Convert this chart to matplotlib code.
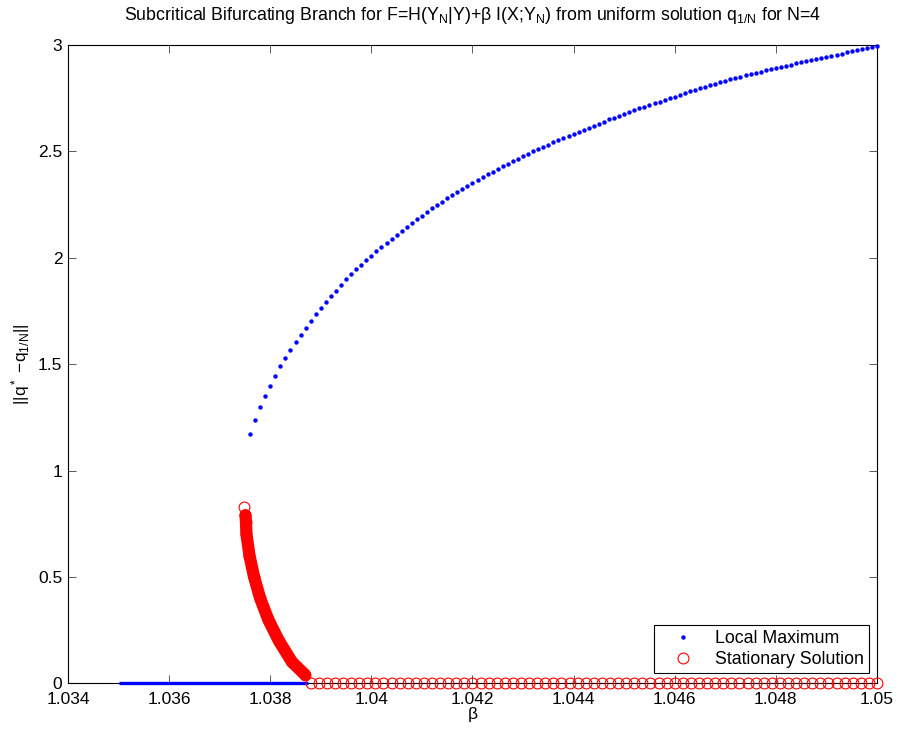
import matplotlib
matplotlib.use("Agg")
import matplotlib.pyplot as plt

plt.rcParams['font.family'] = ['Liberation Sans', 'DejaVu Sans']
plt.rcParams['mathtext.fontset'] = 'custom'
plt.rcParams['mathtext.rm'] = 'Liberation Sans'
plt.rcParams['mathtext.it'] = 'Liberation Sans'
plt.rcParams['mathtext.default'] = 'regular'

# ---------------- data ----------------
# upper branch of local maxima (beta, norm)
upper_beta = [
    1.0376, 1.0377, 1.0378, 1.0379, 1.0380, 1.0381, 1.0382, 1.0383, 1.0384, 1.0385,
    1.0386, 1.0387, 1.0388, 1.0389, 1.0390, 1.0391, 1.0392, 1.0393, 1.0394, 1.0395,
    1.0396, 1.0397, 1.0398, 1.0399, 1.0400, 1.0401, 1.0402, 1.0403, 1.0404, 1.0405,
    1.0406, 1.0407, 1.0408, 1.0409, 1.0410, 1.0411, 1.0412, 1.0413, 1.0414, 1.0415,
    1.0416, 1.0417, 1.0418, 1.0419, 1.0420, 1.0421, 1.0422, 1.0423, 1.0424, 1.0425,
    1.0426, 1.0427, 1.0428, 1.0429, 1.0430, 1.0431, 1.0432, 1.0433, 1.0434, 1.0435,
    1.0436, 1.0437, 1.0438, 1.0439, 1.0440, 1.0441, 1.0442, 1.0443, 1.0444, 1.0445,
    1.0446, 1.0447, 1.0448, 1.0449, 1.0450, 1.0451, 1.0452, 1.0453, 1.0454, 1.0455,
    1.0456, 1.0457, 1.0458, 1.0459, 1.0460, 1.0461, 1.0462, 1.0463, 1.0464, 1.0465,
    1.0466, 1.0467, 1.0468, 1.0469, 1.0470, 1.0471, 1.0472, 1.0473, 1.0474, 1.0475,
    1.0476, 1.0477, 1.0478, 1.0479, 1.0480, 1.0481, 1.0482, 1.0483, 1.0484, 1.0485,
    1.0486, 1.0487, 1.0488, 1.0489, 1.0490, 1.0491, 1.0492, 1.0493, 1.0494, 1.0495,
    1.0496, 1.0497, 1.0498, 1.0499, 1.0500,
]
upper_norm = [
    1.171, 1.236, 1.298, 1.351, 1.399, 1.446, 1.489, 1.529, 1.568, 1.605,
    1.639, 1.672, 1.705, 1.735, 1.764, 1.793, 1.819, 1.846, 1.873, 1.898,
    1.923, 1.947, 1.967, 1.989, 2.010, 2.031, 2.051, 2.071, 2.090, 2.109,
    2.128, 2.147, 2.164, 2.181, 2.198, 2.216, 2.233, 2.249, 2.264, 2.280,
    2.294, 2.310, 2.324, 2.338, 2.352, 2.366, 2.379, 2.393, 2.405, 2.418,
    2.431, 2.443, 2.456, 2.466, 2.478, 2.490, 2.501, 2.512, 2.523, 2.532,
    2.543, 2.554, 2.563, 2.573, 2.584, 2.593, 2.602, 2.612, 2.621, 2.631,
    2.640, 2.650, 2.659, 2.667, 2.677, 2.685, 2.694, 2.702, 2.710, 2.717,
    2.727, 2.734, 2.742, 2.750, 2.758, 2.766, 2.774, 2.782, 2.790, 2.797,
    2.804, 2.812, 2.819, 2.825, 2.832, 2.839, 2.846, 2.852, 2.857, 2.863,
    2.869, 2.875, 2.881, 2.886, 2.892, 2.897, 2.903, 2.908, 2.914, 2.919,
    2.924, 2.929, 2.935, 2.940, 2.945, 2.950, 2.955, 2.960, 2.965, 2.970,
    2.975, 2.980, 2.985, 2.990, 2.995,
]

# lower branch of local maxima lying on the uniform solution (beta range, norm 0)
lower_beta = [1.0350, 1.03875]
lower_norm = [0.0, 0.0]

# stationary solutions: subcritical branch (beta, norm)
stat_branch_beta = [1.03749, 1.03751, 1.03752, 1.03753, 1.03759, 1.03768, 1.03780,
                    1.03796, 1.03817, 1.03843, 1.03869]
stat_branch_norm = [0.830, 0.790, 0.760, 0.700, 0.600, 0.500, 0.400,
                    0.300, 0.200, 0.100, 0.040]

# stationary solutions on the uniform solution (norm 0)
stat_zero_beta = [
    1.03880, 1.03896, 1.03912, 1.03928, 1.03944, 1.03960, 1.03976, 1.03992, 1.04008, 1.04024,
    1.04040, 1.04056, 1.04072, 1.04088, 1.04104, 1.04120, 1.04136, 1.04152, 1.04168, 1.04184,
    1.04200, 1.04216, 1.04232, 1.04248, 1.04264, 1.04280, 1.04296, 1.04312, 1.04328, 1.04344,
    1.04360, 1.04376, 1.04392, 1.04408, 1.04424, 1.04440, 1.04456, 1.04472, 1.04488, 1.04504,
    1.04520, 1.04536, 1.04552, 1.04568, 1.04584, 1.04600, 1.04616, 1.04632, 1.04648, 1.04664,
    1.04680, 1.04696, 1.04712, 1.04728, 1.04744, 1.04760, 1.04776, 1.04792, 1.04808, 1.04824,
    1.04840, 1.04856, 1.04872, 1.04888, 1.04904, 1.04920, 1.04936, 1.04952, 1.04968, 1.04984,
    1.05000,
]
stat_zero_norm = [0.0] * len(stat_zero_beta)

x_ticks = [1.034, 1.036, 1.038, 1.040, 1.042, 1.044, 1.046, 1.048, 1.050]
x_tick_labels = ['1.034', '1.036', '1.038', '1.04', '1.042', '1.044', '1.046', '1.048', '1.05']
y_ticks = [0, 0.5, 1, 1.5, 2, 2.5, 3]
y_tick_labels = ['0', '0.5', '1', '1.5', '2', '2.5', '3']

title_text = 'Subcritical Bifurcating Branch for F=H($Y_N$|Y)+β I(X;$Y_N$) from uniform solution $q_{1/N}$ for N=4'
x_label = 'β'
y_label = '||q$^*$ −q$_{1/N}$||'

# ---------------- figure ----------------
fig = plt.figure(figsize=(8.98, 7.31), dpi=100)
ax = fig.add_axes([0.0757, 0.0653, 0.9009, 0.8731])

fs = 12.5
blue = '#0000ff'
red = '#ff0000'

# lower blue branch (dense dots -> thick line)
ax.plot(lower_beta, lower_norm, '-', color=blue, lw=2.4, solid_capstyle='butt',
        clip_on=False, zorder=3)
# upper blue branch
h1, = ax.plot(upper_beta, upper_norm, linestyle='none', marker='o', markersize=2.8,
              markerfacecolor=blue, markeredgecolor=blue, markeredgewidth=0.3,
              clip_on=False, zorder=3, label='Local Maximum')

# red dense branch: thick band through the dense circles plus circle outlines
ax.plot(stat_branch_beta[1:], stat_branch_norm[1:], '-', color=red, lw=8.8,
        solid_capstyle='round', solid_joinstyle='round', zorder=4)
ax.plot(stat_branch_beta, stat_branch_norm, linestyle='none', marker='o', markersize=7.8,
        markerfacecolor='none', markeredgecolor=red, markeredgewidth=0.8, zorder=4)
h2, = ax.plot(stat_zero_beta, stat_zero_norm, linestyle='none', marker='o', markersize=7.8,
              markerfacecolor='none', markeredgecolor=red, markeredgewidth=0.8,
              clip_on=False, zorder=4, label='Stationary Solution')

ax.set_xlim(1.034, 1.05)
ax.set_ylim(0, 3)
ax.set_xticks(x_ticks)
ax.set_xticklabels(x_tick_labels, fontsize=fs)
ax.set_yticks(y_ticks)
ax.set_yticklabels(y_tick_labels, fontsize=fs)
ax.tick_params(direction='in', length=6, width=0.6, top=True, right=True, color='#404040')
ax.tick_params(axis='x', pad=6)
ax.tick_params(axis='y', pad=4)
for s in ax.spines.values():
    s.set_linewidth(0.8)
    s.set_color('black')

ax.set_title(title_text, fontsize=12.8, pad=18)
ax.set_xlabel(x_label, fontsize=fs, labelpad=0)
ax.set_ylabel(y_label, fontsize=fs, labelpad=4)

leg = ax.legend(handles=[h1, h2], loc='lower right', bbox_to_anchor=(0.990, 0.0157),
                borderaxespad=0, fontsize=12.8, frameon=True, fancybox=False,
                edgecolor='black', framealpha=1, borderpad=0.3, handlelength=2.6,
                handletextpad=0.5, labelspacing=0.2, markerscale=1.0)
leg.get_frame().set_linewidth(0.8)

fig.savefig('out.png', dpi=100)
